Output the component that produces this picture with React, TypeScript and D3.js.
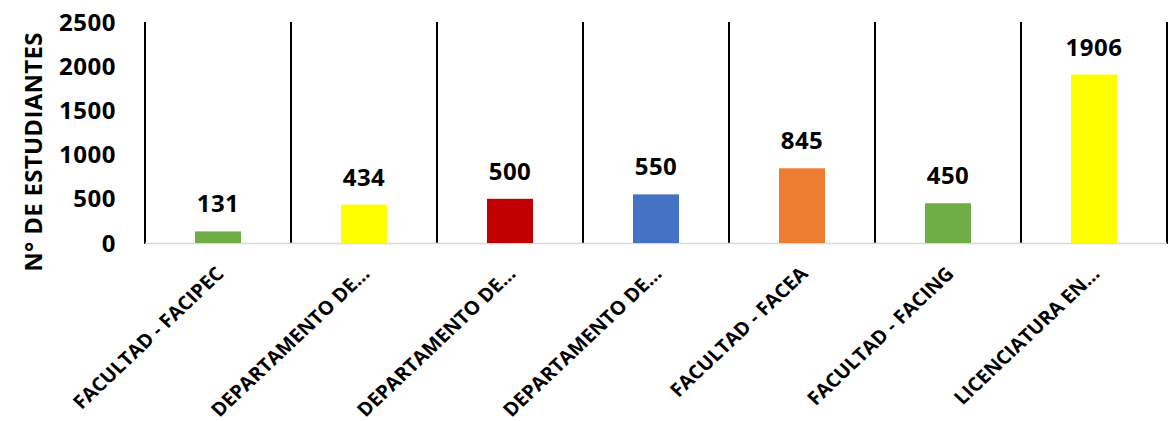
import React from "react";
import * as d3 from "d3";

const categories = [
  "FACULTAD - FACIPEC",
  "DEPARTAMENTO DE…",
  "DEPARTAMENTO DE…",
  "DEPARTAMENTO DE…",
  "FACULTAD - FACEA",
  "FACULTAD - FACING",
  "LICENCIATURA EN…",
];
const values = [131, 434, 500, 550, 845, 450, 1906];
const colors = ["#70AD47", "#FFFF00", "#C00000", "#4472C4", "#ED7D31", "#70AD47", "#FFFF00"];
const yTicks = [0, 500, 1000, 1500, 2000, 2500];
const yTitle = "N° DE ESTUDIANTES";

const W = 1168;
const H = 421;
const left = 145;
const right = 1167;
const top = 22;
const bottom = 243;
const FONT = "'Open Sans', Lato, sans-serif";

export default function App() {
  const x = d3.scaleBand<number>().domain(d3.range(categories.length)).range([left, right]).paddingInner(0).paddingOuter(0);
  const y = d3.scaleLinear().domain([0, 2500]).range([bottom, top]);
  const bw = 46;
  const boundaries = d3.range(categories.length + 1).map((i) => left + i * x.bandwidth());
  return (
    <svg width={W} height={H} style={{ position: "absolute", left: 0, top: 0, background: "#fff" }} fontFamily={FONT}>
      <rect x={0} y={0} width={W} height={H} fill="#fff" />
      {boundaries.map((bx, i) => (
        <line key={"v" + i} x1={bx} x2={bx} y1={top} y2={bottom + 1} stroke="#000" strokeWidth={2} />
      ))}
      <line x1={left} x2={right} y1={bottom + 0.5} y2={bottom + 0.5} stroke="#d9d9d9" strokeWidth={1.5} />
      {values.map((v, i) => {
        const cx = (x(i) as number) + x.bandwidth() / 2;
        return (
          <g key={"b" + i}>
            <rect x={cx - bw / 2} y={y(v)} width={bw} height={y(0) - y(v)} fill={colors[i]} />
            <text x={cx} y={y(v) - 19} textAnchor="middle" fontSize={24} fontWeight="bold" letterSpacing={0.5} fill="#000">
              {v}
            </text>
            <text
              transform={`translate(${cx + 7},${bottom + 32}) scale(1.06,1) rotate(-45)`}
              textAnchor="end"
              fontSize={19}
              fontWeight="bold"
              fill="#000"
            >
              {categories[i]}
            </text>
          </g>
        );
      })}
      {yTicks.map((t) => (
        <text key={"t" + t} x={116} y={y(t)} dy="0.36em" textAnchor="end" fontSize={24} fontWeight="bold" letterSpacing={0.5} fill="#000">
          {t}
        </text>
      ))}
      <text
        transform={`translate(42,152) rotate(-90)`}
        textAnchor="middle"
        fontSize={24}
        fontWeight="bold"
        letterSpacing={0.3}
        fill="#000"
      >
        {yTitle}
      </text>
    </svg>
  );
}
